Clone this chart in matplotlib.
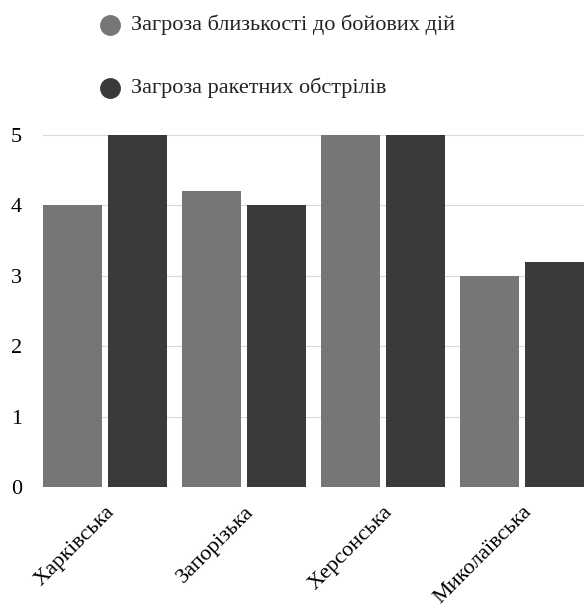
import numpy as np
import matplotlib.pyplot as plt
from matplotlib.lines import Line2D

regions = ['Харківська', 'Запорізька', 'Херсонська', 'Миколаївська']
combat_threat = [4, 4.2, 5, 3]
missile_threat = [5, 4, 5, 3.2]
series_names = ['Загроза близькості до бойових дій', 'Загроза ракетних обстрілів']
colors = ['#767676', '#3a3a3a']

plt.rcParams['font.family'] = ['Liberation Serif', 'DejaVu Serif']

fig = plt.figure(figsize=(5.84, 6.13), dpi=100)
ax = fig.add_axes([0.0736, 0.2055, 0.9264, 0.5743])

x = np.arange(len(regions))
w = 0.43
ax.bar(x - 0.234, combat_threat, w, color=colors[0], zorder=2)
ax.bar(x + 0.234, missile_threat, w, color=colors[1], zorder=2)

ax.set_xlim(-0.446, 3.446)
ax.set_ylim(0, 5)
ax.set_yticks(range(6))
ax.yaxis.grid(True, color='#d9d9d9', linewidth=0.8, zorder=0)
ax.tick_params(axis='y', length=0, labelsize=16, pad=15)
ax.tick_params(axis='x', length=0, labelsize=16, pad=11)
ax.set_xticks(x)
ax.set_xticklabels(regions, rotation=45, ha='right', rotation_mode='anchor')
for s in ax.spines.values():
    s.set_visible(False)

# legend at the top, one entry per line
for i, (name, c) in enumerate(zip(series_names, colors)):
    yy = 1 - (25 + 63 * i) / 613
    fig.add_artist(Line2D([110 / 584], [yy], marker='o', markersize=14,
                          color=c, linestyle='none', transform=fig.transFigure))
    fig.text(131 / 584, yy, name, fontsize=16, va='center', ha='left',
             color='#222222')

fig.savefig('out.png', dpi=100)
